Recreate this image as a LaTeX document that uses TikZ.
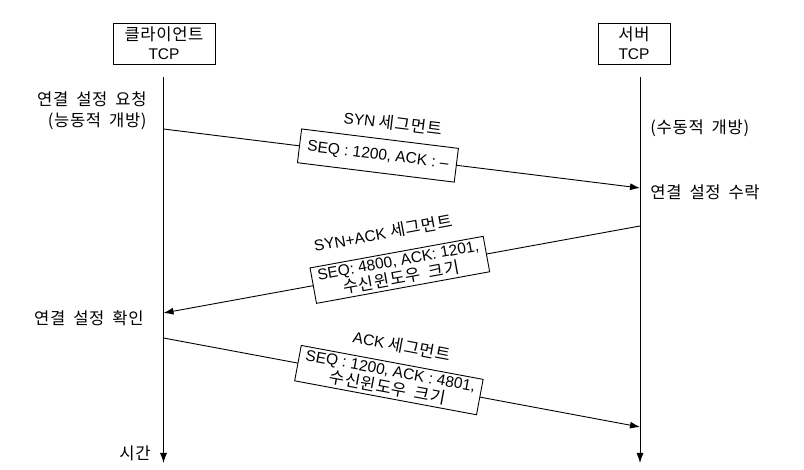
\documentclass[tikz,border=0pt]{standalone}
\usepackage{fontspec}
\setmainfont{Liberation Sans}
\newfontfamily\kr{Noto Sans CJK KR}[Scale=1.07,LetterSpace=4,WordSpace=1.8]
\usetikzlibrary{arrows.meta}
\begin{document}
\begin{tikzpicture}[x=1pt,y=-1pt,
  font=\fontsize{15.5}{18}\selectfont,
  line width=0.9pt,
  ent/.style={draw, minimum height=41pt, align=center, inner sep=0pt,
    font=\fontsize{15.5}{19}\selectfont},
  lifeline/.style={-{Latex[length=10pt,width=7pt]}},
  msg/.style={-{Latex[length=10pt,width=7pt]}},
  segbox/.style={draw, fill=white, sloped, align=center, inner sep=0pt,
    minimum height=36pt, font=\fontsize{15.5}{18}\selectfont},
  lbl/.style={inner sep=0pt}]
\useasboundingbox (0,0) rectangle (804,470);

% entities
\node[ent, minimum width=102pt] (client) at (164,43.5) {{\kr 클라이언트}\\TCP};
\node[ent, minimum width=72pt] (server) at (634,43.5) {{\kr 서버}\\TCP};

% lifelines
\coordinate (ctop) at (163.5,77);
\coordinate (cbot) at (163.5,463);
\coordinate (stop) at (640,77);
\coordinate (sbot) at (640,463);
\draw[lifeline] (ctop) -- (cbot);
\draw[lifeline] (stop) -- (sbot);

% message end points
\coordinate (m1a) at (163.5,129);
\coordinate (m1b) at (640,188);
\coordinate (m2a) at (640,226);
\coordinate (m2b) at (163.5,313);
\coordinate (m3a) at (163.5,338);
\coordinate (m3b) at (640,427);

% messages
\draw[msg] (m1a) -- node[segbox, pos=0.45, minimum width=158pt, minimum height=34pt] (seg1)
  {SEQ : 1200, ACK : –} (m1b);
\draw[msg] (m2a) -- node[segbox, pos=0.504, minimum width=176pt] (seg2)
  {SEQ: 4800, ACK: 1201,\\{\kr 수신윈도우 크기}} (m2b);
\draw[msg] (m3a) -- node[segbox, pos=0.473, minimum width=185pt] (seg3)
  {SEQ : 1200, ACK : 4801,\\{\kr 수신윈도우 크기}} (m3b);

% segment labels
\node[lbl, rotate=-7] (l1) at (393,123) {SYN {\kr 세그먼트}};
\node[lbl, rotate=10.5] (l2) at (383,233) {SYN+ACK {\kr 세그먼트}};
\node[lbl, rotate=-10.7] (l3) at (402,346) {ACK {\kr 세그먼트}};

% side texts
\node[lbl, anchor=east] (req) at (147,99) {\kr 연결 설정 요청};
\node[lbl, anchor=east] (act) at (147,121) {\kr (능동적 개방)};
\node[lbl, anchor=west] (pas) at (650,128) {\kr (수동적 개방)};
\node[lbl, anchor=west] (acc) at (650,192) {\kr 연결 설정 수락};
\node[lbl, anchor=east] (cnf) at (144,318) {\kr 연결 설정 확인};
\node[lbl, anchor=east] (time) at (151,453) {\kr 시간};
\end{tikzpicture}
\end{document}
